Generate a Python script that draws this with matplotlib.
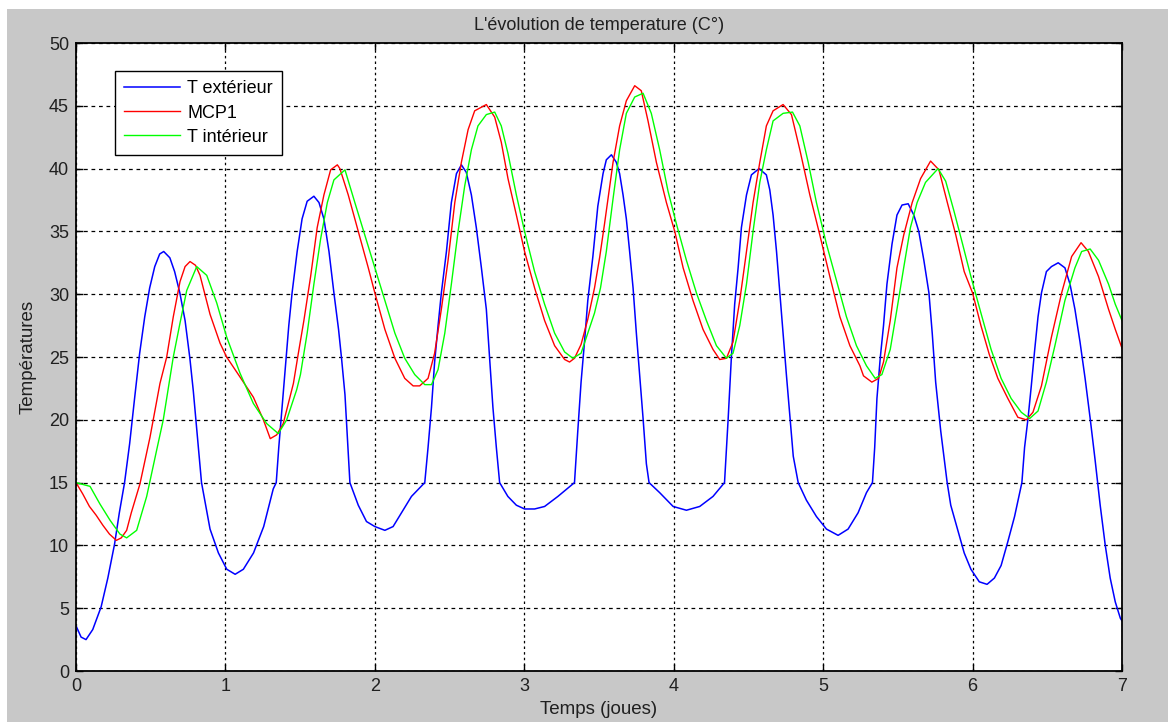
import matplotlib
matplotlib.use("Agg")
import matplotlib.pyplot as plt
from matplotlib.patches import Rectangle

plt.rcParams['font.family'] = ['Liberation Sans', 'DejaVu Sans']

# T exterieur (jours, degres)
jours_ext = [0.0, 0.034, 0.067, 0.112, 0.168, 0.213, 0.258, 0.29, 0.325, 0.359, 0.392, 0.426, 0.46, 0.493,
             0.527, 0.56, 0.587, 0.628, 0.66, 0.695, 0.73, 0.762, 0.785, 0.807, 0.825, 0.84, 0.897, 0.953,
             1.009, 1.065, 1.12, 1.188, 1.256, 1.32, 1.34, 1.357, 1.379, 1.401, 1.424, 1.446, 1.48, 1.513,
             1.547, 1.592, 1.626, 1.659, 1.693, 1.726, 1.757, 1.777, 1.8, 1.82, 1.833, 1.889, 1.944, 2.0,
             2.067, 2.122, 2.178, 2.245, 2.334, 2.356, 2.379, 2.4, 2.423, 2.445, 2.479, 2.512, 2.546, 2.579,
             2.612, 2.646, 2.679, 2.713, 2.746, 2.768, 2.79, 2.813, 2.835, 2.89, 2.947, 3.002, 3.069, 3.136,
             3.225, 3.336, 3.358, 3.38, 3.403, 3.425, 3.459, 3.492, 3.527, 3.549, 3.583, 3.616, 3.638, 3.661,
             3.683, 3.705, 3.728, 3.75, 3.772, 3.795, 3.817, 3.835, 3.906, 3.996, 4.085, 4.174, 4.263, 4.34,
             4.364, 4.386, 4.408, 4.431, 4.453, 4.487, 4.52, 4.571, 4.62, 4.643, 4.665, 4.688, 4.71, 4.732,
             4.754, 4.777, 4.8, 4.833, 4.888, 4.955, 5.022, 5.1, 5.167, 5.234, 5.29, 5.33, 5.345, 5.36,
             5.382, 5.404, 5.427, 5.461, 5.494, 5.528, 5.569, 5.607, 5.64, 5.674, 5.708, 5.73, 5.753, 5.787,
             5.83, 5.854, 5.899, 5.944, 5.989, 6.045, 6.097, 6.146, 6.191, 6.236, 6.281, 6.33, 6.348, 6.371,
             6.393, 6.416, 6.438, 6.461, 6.494, 6.528, 6.573, 6.618, 6.652, 6.685, 6.719, 6.753, 6.787, 6.82,
             6.854, 6.888, 6.921, 6.955, 6.989, 7.0]
t_ext = [3.6, 2.7, 2.5, 3.3, 5.1, 7.4, 10.1, 12.6, 15.0, 18.1, 21.7, 25.3, 28.2, 30.5,
         32.2, 33.2, 33.4, 32.9, 31.8, 30.1, 27.9, 24.9, 22.3, 19.4, 17.1, 15.0, 11.3, 9.4,
         8.1, 7.7, 8.1, 9.4, 11.5, 14.5, 15.0, 17.8, 21.0, 24.3, 27.5, 30.1, 33.4, 36.0,
         37.4, 37.8, 37.3, 36.0, 33.4, 30.1, 27.2, 24.9, 22.0, 17.8, 15.0, 13.2, 11.9, 11.5,
         11.2, 11.5, 12.6, 13.9, 15.0, 17.8, 21.0, 24.6, 27.5, 30.1, 33.4, 37.3, 39.6, 40.3,
         39.7, 37.9, 35.3, 32.1, 28.8, 24.9, 21.0, 17.8, 15.0, 13.9, 13.2, 12.9, 12.9, 13.1,
         13.9, 15.0, 19.1, 23.0, 26.2, 29.5, 33.0, 37.0, 39.6, 40.7, 41.1, 40.5, 39.6, 37.9,
         36.0, 33.4, 30.5, 26.9, 23.6, 20.1, 16.5, 15.0, 14.2, 13.1, 12.8, 13.1, 13.9, 15.0,
         20.0, 25.0, 29.2, 32.1, 35.3, 37.9, 39.5, 40.0, 39.5, 38.3, 36.3, 33.4, 30.1, 26.9,
         23.6, 20.4, 17.1, 15.0, 13.6, 12.3, 11.3, 10.8, 11.3, 12.6, 14.2, 15.0, 17.8, 21.7,
         24.9, 27.5, 30.8, 34.0, 36.3, 37.1, 37.2, 36.3, 35.0, 32.7, 30.1, 26.9, 23.0, 19.1,
         15.0, 13.2, 11.3, 9.4, 8.1, 7.1, 6.9, 7.4, 8.4, 10.3, 12.3, 15.0, 17.8, 20.1,
         22.7, 25.6, 28.2, 30.1, 31.8, 32.2, 32.5, 32.1, 30.8, 28.8, 26.2, 23.3, 20.1, 16.8,
         13.2, 10.0, 7.4, 5.5, 4.2, 4.0]

# MCP1
jours_mcp = [0.0, 0.045, 0.09, 0.135, 0.18, 0.224, 0.27, 0.303, 0.339, 0.37, 0.428, 0.495, 0.562, 0.607,
             0.651, 0.696, 0.73, 0.763, 0.8, 0.83, 0.897, 0.964, 1.008, 1.098, 1.187, 1.254, 1.3, 1.343, 1.387, 1.455,
             1.488, 1.525, 1.57, 1.614, 1.659, 1.704, 1.749, 1.766, 1.822, 1.889, 1.956, 2.0, 2.067, 2.134,
             2.2, 2.256, 2.3, 2.356, 2.4, 2.445, 2.49, 2.535, 2.579, 2.624, 2.668, 2.746, 2.802, 2.846,
             2.891, 2.947, 3.002, 3.069, 3.136, 3.203, 3.27, 3.303, 3.336, 3.38, 3.425, 3.47, 3.504, 3.537,
             3.594, 3.638, 3.683, 3.739, 3.783, 3.828, 3.884, 3.951, 4.007, 4.063, 4.129, 4.196, 4.263, 4.308,
             4.353, 4.397, 4.442, 4.487, 4.531, 4.576, 4.62, 4.665, 4.732, 4.788, 4.844, 4.911, 4.978, 5.045,
             5.112, 5.179, 5.246, 5.27, 5.326, 5.371, 5.404, 5.449, 5.494, 5.539, 5.596, 5.652, 5.719, 5.775,
             5.831, 5.888, 5.944, 6.0, 6.056, 6.112, 6.169, 6.236, 6.303, 6.36, 6.404, 6.461, 6.528, 6.596,
             6.663, 6.726, 6.775, 6.843, 6.91, 6.955, 7.0]
mcp1 = [15.0, 14.1, 13.1, 12.4, 11.6, 10.9, 10.4, 10.6, 11.2, 12.6, 14.9, 18.6, 22.9, 25.0,
        28.2, 31.0, 32.2, 32.6, 32.3, 31.5, 28.4, 26.1, 25.0, 23.4, 21.8, 20.0, 18.5, 18.8, 19.7, 22.9,
        25.3, 27.9, 31.4, 35.3, 37.9, 39.9, 40.3, 40.0, 37.9, 35.0, 32.1, 30.1, 27.2, 24.9,
        23.3, 22.7, 22.7, 23.3, 25.3, 28.8, 32.7, 37.3, 40.5, 43.1, 44.6, 45.1, 44.1, 42.1,
        39.2, 36.3, 33.4, 30.5, 27.9, 25.9, 24.8, 24.6, 24.9, 26.0, 28.0, 30.5, 32.9, 35.6,
        40.5, 43.4, 45.4, 46.6, 46.2, 43.8, 40.5, 37.3, 35.0, 32.1, 29.5, 27.2, 25.6, 24.8,
        24.9, 26.2, 29.5, 33.4, 37.3, 40.5, 43.4, 44.6, 45.1, 44.3, 41.5, 37.9, 34.7, 31.4,
        28.2, 25.9, 24.3, 23.5, 23.0, 23.3, 24.6, 27.9, 32.1, 34.7, 37.3, 39.2, 40.6, 39.9,
        37.3, 34.7, 31.8, 30.1, 27.5, 25.2, 23.3, 21.7, 20.2, 20.0, 20.6, 22.7, 26.6, 30.1,
        33.0, 34.1, 33.4, 31.4, 28.8, 27.2, 25.7]

# T interieur
jours_int = [0.0, 0.094, 0.16, 0.228, 0.294, 0.339, 0.406, 0.473, 0.54, 0.584, 0.651, 0.696, 0.741, 0.808,
             0.875, 0.942, 1.008, 1.098, 1.187, 1.276, 1.354, 1.41, 1.477, 1.502, 1.547, 1.592, 1.637, 1.682,
             1.726, 1.8, 1.866, 1.933, 2.0, 2.067, 2.134, 2.2, 2.267, 2.334, 2.379, 2.423, 2.468, 2.512,
             2.557, 2.601, 2.646, 2.69, 2.746, 2.802, 2.846, 2.891, 2.947, 3.002, 3.069, 3.136, 3.203, 3.27,
             3.325, 3.38, 3.425, 3.47, 3.51, 3.549, 3.594, 3.638, 3.683, 3.739, 3.795, 3.85, 3.906, 3.962,
             4.018, 4.085, 4.152, 4.219, 4.286, 4.353, 4.397, 4.442, 4.487, 4.531, 4.576, 4.62, 4.665, 4.732,
             4.795, 4.844, 4.9, 4.955, 5.022, 5.089, 5.156, 5.223, 5.29, 5.348, 5.393, 5.449, 5.494, 5.539,
             5.584, 5.629, 5.685, 5.769, 5.82, 5.876, 5.933, 5.989, 6.056, 6.124, 6.191, 6.258, 6.326, 6.382,
             6.438, 6.494, 6.551, 6.618, 6.685, 6.73, 6.787, 6.843, 6.91, 6.955, 7.0]
t_int = [15.0, 14.7, 13.3, 12.0, 10.9, 10.6, 11.2, 13.9, 17.6, 20.0, 25.0, 27.7, 30.3, 32.2,
         31.5, 29.3, 26.6, 23.7, 21.3, 19.7, 18.9, 20.0, 22.4, 23.6, 26.9, 30.8, 34.4, 37.3,
         39.1, 39.9, 37.3, 34.7, 32.1, 29.5, 26.9, 24.9, 23.6, 22.8, 22.8, 24.0, 26.9, 30.8,
         35.0, 38.6, 41.5, 43.4, 44.3, 44.5, 43.4, 41.2, 37.9, 35.0, 31.8, 29.2, 26.9, 25.4,
         24.9, 25.3, 26.9, 28.5, 30.5, 33.4, 37.6, 41.5, 44.4, 45.7, 46.0, 44.4, 41.5, 38.2,
         35.6, 32.7, 30.1, 27.9, 25.9, 24.9, 25.3, 27.5, 30.8, 35.0, 38.9, 41.5, 43.8, 44.4,
         44.5, 43.4, 40.5, 37.3, 34.0, 31.1, 28.2, 25.9, 24.3, 23.3, 23.6, 25.6, 28.8, 32.1,
         35.3, 37.3, 38.9, 40.0, 39.0, 36.6, 34.0, 31.4, 28.5, 25.6, 23.3, 21.7, 20.6, 20.1,
         20.7, 23.0, 25.9, 29.5, 32.1, 33.4, 33.6, 32.7, 30.8, 29.2, 27.9]

fig = plt.figure(figsize=(11.68, 7.22), dpi=100, facecolor='white')
fig.patches.append(Rectangle((7 / 1168, 0), 1 - 7 / 1168, (722 - 9) / 722,
                             transform=fig.transFigure, facecolor='#c8c8c8',
                             edgecolor='none', zorder=-10))

ax = fig.add_axes([76 / 1168, 51 / 722, 1046 / 1168, 628 / 722])
ax.set_facecolor('white')

ax.plot(jours_ext, t_ext, color='#0000ff', lw=1.1, label='T extérieur')
ax.plot(jours_mcp, mcp1, color='#ff0000', lw=1.0, label='MCP1')
ax.plot(jours_int, t_int, color='#00ff00', lw=1.0, label='T intérieur')

ax.set_xlim(0, 7)
ax.set_ylim(0, 50)
ax.set_xticks(range(0, 8))
ax.set_yticks(range(0, 51, 5))
ax.tick_params(direction='in', length=5, width=1, top=True, right=True,
               labelsize=13, labelcolor='#202020', pad=5)
for sp in ax.spines.values():
    sp.set_linewidth(1.3)
    sp.set_color('black')

ax.xaxis.grid(True, color='black', lw=0.9, linestyle=(0, (2, 2.5)))
ax.yaxis.grid(True, color='black', lw=0.9, linestyle=(0, (3, 3)))
ax.set_axisbelow(True)

ax.set_title("L'évolution de temperature (C°)", fontsize=13, color='#202020', pad=9)
ax.set_xlabel('Temps (joues)', fontsize=13.5, color='#202020', labelpad=4)
ax.set_ylabel('Températures', fontsize=13.5, color='#202020', labelpad=9)

leg = ax.legend(loc='upper left', bbox_to_anchor=(0.0373, 0.955), borderaxespad=0,
                fancybox=False, edgecolor='black', fontsize=13, handlelength=3.1,
                framealpha=1, borderpad=0.5, labelspacing=0.4, handletextpad=0.4)
leg.get_frame().set_linewidth(1.0)

fig.savefig('out.png', dpi=100, facecolor=fig.get_facecolor())
